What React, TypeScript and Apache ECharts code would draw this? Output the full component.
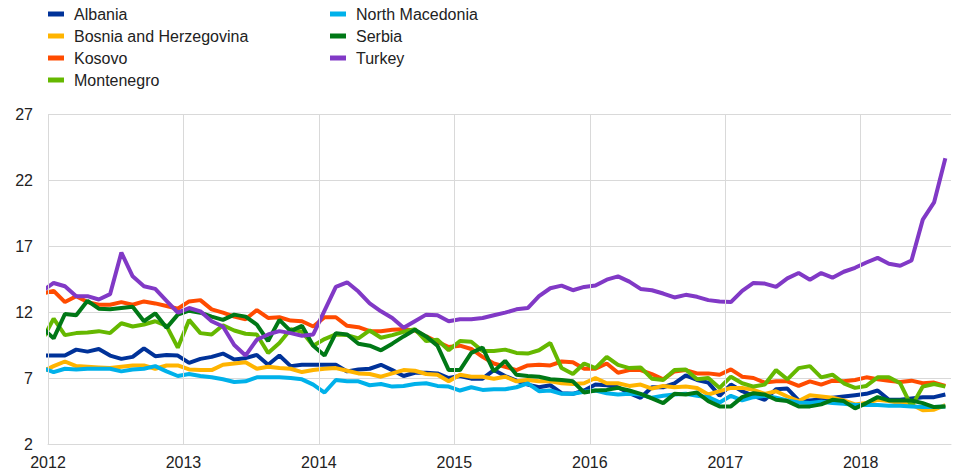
import React, { useEffect, useRef } from "react";
import * as echarts from "echarts";

// Monthly observations, Dec 2011 .. Aug 2018 (first point lies just left of the axis start)
const firstYear = 2011;
const firstMonth = 12;

const albania = [
  8.7, 8.7, 8.7, 9.15, 9.0, 9.2, 8.7, 8.45, 8.6, 9.25, 8.65, 8.75, 8.7, 8.15,
  8.45, 8.6, 8.85, 8.4, 8.5, 8.75, 8.0, 8.7, 7.9, 8.0, 8.0, 8.0,
  8.0, 7.5, 7.65, 7.7, 8.0, 7.6, 7.15, 7.4, 7.4, 7.35, 7.0, 7.15,
  6.95, 6.95, 7.6, 7.15, 6.8, 6.5, 6.3, 6.45, 5.85, 5.8, 6.05, 6.5,
  6.45, 6.3, 5.85, 5.5, 6.3, 6.3, 6.6, 7.2, 6.85, 6.65, 5.65, 6.5,
  6.0, 5.65, 5.35, 6.15, 6.2, 5.3, 5.3, 5.4, 5.5, 5.6, 5.7, 5.8,
  6.05, 5.35, 5.35, 5.45, 5.55, 5.55, 5.75,
];
const bosnia = [
  7.5, 7.9, 8.25, 7.9, 7.85, 7.8, 7.75, 7.85, 7.95, 7.95, 7.7, 7.95, 7.95, 7.65,
  7.6, 7.6, 8.0, 8.1, 8.2, 7.7, 7.85, 7.75, 7.7, 7.45, 7.6, 7.7,
  7.75, 7.55, 7.35, 7.3, 7.1, 7.35, 7.6, 7.55, 7.3, 7.25, 6.75, 7.25,
  7.1, 7.1, 6.95, 7.1, 6.75, 6.85, 6.75, 6.75, 6.6, 6.55, 6.6, 7.0,
  6.6, 6.6, 6.4, 6.5, 6.2, 6.4, 6.3, 6.35, 6.25, 5.75, 6.0, 6.25,
  6.25, 6.1, 5.8, 6.0, 5.6, 5.25, 5.7, 5.6, 5.5, 5.3, 5.0, 5.1,
  5.35, 5.25, 5.1, 5.0, 4.55, 4.6, 4.95,
];
const kosovo = [
  13.4, 13.6, 12.75, 13.2, 12.75, 12.55, 12.55, 12.75, 12.55, 12.8, 12.65, 12.45, 12.25, 12.8,
  12.9, 12.2, 11.95, 11.65, 11.45, 12.15, 11.55, 11.6, 11.35, 11.3, 10.9, 11.6,
  11.6, 10.95, 10.85, 10.55, 10.55, 10.65, 10.7, 10.6, 10.15, 9.75, 9.35, 9.45,
  9.2, 8.6, 8.1, 7.85, 7.6, 7.95, 8.0, 7.95, 8.25, 8.2, 7.7, 7.7,
  8.1, 7.4, 7.6, 7.6, 7.3, 6.9, 7.5, 7.6, 7.35, 7.35, 7.25, 7.65,
  7.1, 7.0, 6.65, 6.75, 6.75, 6.4, 6.75, 6.5, 6.8, 6.75, 6.85, 7.05,
  6.9, 6.8, 6.7, 6.8, 6.6, 6.65, 6.4,
];
const montenegro = [
  9.9, 11.5, 10.25, 10.4, 10.45, 10.55, 10.4, 11.15, 10.9, 11.05, 11.3, 10.95, 9.3, 11.4,
  10.4, 10.3, 11.0, 10.6, 10.35, 10.3, 8.9, 9.65, 10.7, 10.5, 9.45, 9.95,
  10.3, 10.25, 10.0, 10.6, 10.05, 10.25, 10.5, 10.7, 9.8, 9.9, 9.1, 9.8,
  9.75, 9.05, 9.05, 9.15, 8.9, 8.85, 9.1, 9.65, 7.75, 7.3, 8.1, 7.75,
  8.6, 8.0, 7.75, 7.8, 6.95, 6.85, 7.6, 7.65, 6.9, 7.0, 6.25, 7.1,
  6.6, 6.35, 6.5, 7.6, 6.9, 7.75, 7.9, 7.05, 7.25, 6.6, 6.25, 6.4,
  7.05, 7.05, 6.6, 4.85, 6.35, 6.55, 6.35,
];
const northMacedonia = [
  7.75, 7.45, 7.7, 7.65, 7.7, 7.7, 7.7, 7.5, 7.65, 7.7, 7.9, 7.5, 7.15, 7.3,
  7.15, 7.05, 6.9, 6.7, 6.75, 7.05, 7.05, 7.05, 7.0, 6.9, 6.5, 5.9,
  6.85, 6.75, 6.75, 6.45, 6.55, 6.35, 6.4, 6.55, 6.6, 6.4, 6.35, 6.05,
  6.3, 6.1, 6.15, 6.15, 6.3, 6.6, 6.0, 6.05, 5.8, 5.8, 5.95, 6.05,
  5.85, 5.75, 5.8, 5.75, 5.5, 5.65, 5.75, 5.8, 5.65, 5.55, 5.15, 5.65,
  5.3, 5.55, 5.65, 5.5, 5.3, 5.15, 5.1, 5.2, 5.1, 5.05, 4.95, 4.95,
  4.95, 4.9, 4.9, 4.85, 4.8, 4.8, 4.85,
];
const serbia = [
  10.8, 10.0, 11.85, 11.75, 12.85, 12.25, 12.2, 12.3, 12.4, 11.3, 11.9, 10.8, 11.8, 12.1,
  11.95, 11.65, 11.4, 11.8, 11.65, 11.05, 9.8, 11.4, 10.55, 10.95, 9.45, 8.7,
  10.4, 10.3, 9.6, 9.45, 9.1, 9.6, 10.15, 10.65, 10.15, 9.45, 7.6, 7.6,
  8.9, 9.3, 7.5, 8.3, 7.25, 7.15, 7.1, 6.9, 6.85, 6.75, 5.9, 6.05,
  6.1, 6.25, 6.05, 5.8, 5.45, 5.1, 5.8, 5.75, 5.9, 5.25, 4.85, 4.85,
  5.55, 5.85, 5.75, 5.35, 5.25, 4.85, 4.85, 5.0, 5.35, 5.25, 4.7, 5.1,
  5.55, 5.3, 5.3, 5.3, 5.1, 4.8, 4.85,
];
const turkey = [
  13.6, 14.2, 13.95, 13.2, 13.2, 12.95, 13.35, 16.5, 14.7, 13.95, 13.75, 12.85, 11.95, 12.3,
  12.05, 11.3, 10.9, 9.5, 8.7, 9.9, 10.3, 10.55, 10.4, 10.2, 10.3, 12.1,
  13.9, 14.25, 13.55, 12.65, 12.05, 11.55, 10.8, 11.3, 11.8, 11.75, 11.3, 11.45,
  11.45, 11.55, 11.75, 11.95, 12.2, 12.3, 13.2, 13.8, 14.0, 13.65, 13.9, 14.0,
  14.45, 14.7, 14.3, 13.75, 13.65, 13.4, 13.1, 13.3, 13.15, 12.9, 12.8, 12.75,
  13.6, 14.2, 14.15, 13.9, 14.55, 14.95, 14.45, 14.95, 14.6, 15.05, 15.35, 15.75,
  16.1, 15.65, 15.5, 15.9, 19.0, 20.3, 23.65,
];

const seriesNames = [
  "Albania",
  "Bosnia and Herzegovina",
  "Kosovo",
  "Montenegro",
  "North Macedonia",
  "Serbia",
  "Turkey",
];
const seriesValues = [albania, bosnia, kosovo, montenegro, northMacedonia, serbia, turkey];
const seriesColors = ["#003299", "#FFB400", "#FF4B00", "#65B800", "#00B1EA", "#007816", "#8139C6"];

const yearTicks = [2012, 2013, 2014, 2015, 2016, 2017, 2018];
const yTicks = [2, 7, 12, 17, 22, 27];

const legendCol1 = seriesNames.slice(0, 4);
const legendCol2 = seriesNames.slice(4);

const FONT = "'Liberation Sans', Arial, Helvetica, sans-serif";
const TEXT = "#222222";
const GRID = "#d9d9d9";

// position of each monthly observation on a fractional-year axis (mid-month)
const monthX = (i: number) => firstYear + (firstMonth - 1 + i + 0.5) / 12;

export default function App() {
  const ref = useRef<HTMLDivElement>(null);

  useEffect(() => {
    if (!ref.current) return;
    const chart = echarts.init(ref.current, undefined, { renderer: "svg" });

    const lineSeries = seriesNames.map((name, k) => ({
      name,
      type: "line" as const,
      data: seriesValues[k].map((v, i) => [monthX(i), v]),
      showSymbol: false,
      symbol: "none",
      z: 3,
      clip: true,
      lineStyle: { color: seriesColors[k], width: 4 },
      itemStyle: { color: seriesColors[k] },
      emphasis: { disabled: true },
    }));

    const legendBase = {
      orient: "vertical" as const,
      top: 6,
      padding: 0,
      icon: "rect",
      itemWidth: 16,
      itemHeight: 5,
      itemGap: 6,
      selectedMode: false,
      textStyle: {
        fontFamily: FONT,
        fontSize: 16,
        lineHeight: 16,
        color: TEXT,
        padding: [0, 0, 0, 5],
      },
    };

    chart.setOption({
      animation: false,
      textStyle: { fontFamily: FONT },
      legend: [
        { ...legendBase, left: 48, data: legendCol1 },
        { ...legendBase, left: 330, data: legendCol2 },
      ],
      grid: { left: 48, right: 4, top: 114, bottom: 32, containLabel: false },
      xAxis: {
        type: "value",
        min: yearTicks[0],
        max: yearTicks[0] + 80 / 12,
        interval: 1,
        axisLine: { show: true, lineStyle: { color: GRID, width: 1 } },
        axisTick: { show: false },
        splitLine: { show: false },
        axisLabel: {
          show: true,
          color: TEXT,
          fontSize: 16,
          fontFamily: FONT,
          margin: 10,
          showMaxLabel: false,
          formatter: (v: number) => (Number.isInteger(v) ? String(v) : ""),
        },
      },
      yAxis: {
        type: "value",
        min: yTicks[0],
        max: yTicks[yTicks.length - 1],
        interval: 5,
        axisLine: { show: false },
        axisTick: { show: false },
        splitLine: { show: true, lineStyle: { color: GRID, width: 1 } },
        axisLabel: { color: TEXT, fontSize: 16, fontFamily: FONT, margin: 15 },
      },
      series: [
        {
          name: "__grid",
          type: "line",
          data: [],
          z: 1,
          silent: true,
          markLine: {
            silent: true,
            symbol: "none",
            label: { show: false },
            lineStyle: { color: GRID, width: 1, type: "solid" },
            emphasis: { disabled: true },
            data: yearTicks.map((y) => ({ xAxis: y })),
          },
        },
        ...lineSeries,
      ],
    });

    return () => chart.dispose();
  }, []);

  return (
    <div
      ref={ref}
      style={{ position: "fixed", left: 0, top: 0, width: 955, height: 476, background: "#fff" }}
    />
  );
}
